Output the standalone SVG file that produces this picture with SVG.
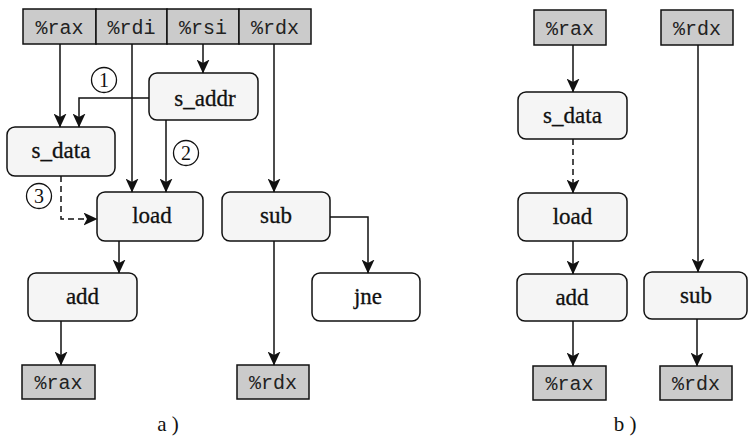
<svg xmlns="http://www.w3.org/2000/svg" width="748" height="437" viewBox="0 0 748 437">
<style>
.reg{fill:#cbcbcb;stroke:#111;stroke-width:1.5}
.node{fill:#f5f5f5;stroke:#111;stroke-width:1.5}
.rt{font-family:"Liberation Mono",monospace;font-size:20px;fill:#222;text-anchor:middle}
.nt{font-family:"Liberation Serif",serif;font-size:23px;fill:#111;stroke:#111;stroke-width:0.3;text-anchor:middle}
.ct{font-family:"Liberation Serif",serif;font-size:20px;fill:#111;text-anchor:middle}
.cap{font-family:"Liberation Serif",serif;font-size:21px;fill:#111;text-anchor:middle}
.circ{fill:#fff;stroke:#111;stroke-width:1.3}
.e{fill:none;stroke:#111;stroke-width:1.5;marker-end:url(#ah)}
.d{stroke-dasharray:6,4}
</style>
<defs>
<marker id="ah" markerUnits="userSpaceOnUse" markerWidth="14" markerHeight="13" viewBox="0 0 14 13" refX="13.5" refY="6.5" orient="auto">
<path d="M0,0 L14,6.5 L0,13 L3.5,6.5 z" fill="#111"/>
</marker>
</defs>
<rect width="748" height="437" fill="#fff"/>

<!-- Part a -->
<g id="a_rax_in"><rect class="reg" x="23" y="9" width="73" height="35"/><text class="rt" x="59.5" y="34">%rax</text></g>
<g id="a_rdi_in"><rect class="reg" x="96" y="9" width="71" height="35"/><text class="rt" x="131.5" y="34">%rdi</text></g>
<g id="a_rsi_in"><rect class="reg" x="167" y="9" width="72" height="35"/><text class="rt" x="203" y="34">%rsi</text></g>
<g id="a_rdx_in"><rect class="reg" x="239" y="9" width="72" height="35"/><text class="rt" x="275" y="34">%rdx</text></g>

<g id="a_s_addr"><rect class="node" x="149" y="73" width="109" height="47" rx="8"/><text class="nt" x="205" y="106">s_addr</text></g>
<g id="a_s_data"><rect class="node" x="7" y="127" width="108" height="49" rx="8"/><text class="nt" x="61" y="158">s_data</text></g>
<g id="a_load"><rect class="node" x="97" y="192" width="106" height="49" rx="8"/><text class="nt" x="152" y="223">load</text></g>
<g id="a_sub"><rect class="node" x="222" y="192" width="108" height="49" rx="8"/><text class="nt" x="276" y="223">sub</text></g>
<g id="a_add"><rect class="node" x="28" y="273" width="109" height="48" rx="8"/><text class="nt" x="82.5" y="304">add</text></g>
<g id="a_jne"><rect class="node" x="312" y="273" width="108" height="48" rx="8" style="fill:#fff"/><text class="nt" x="368" y="304">jne</text></g>
<g id="a_rax_out"><rect class="reg" x="22" y="365" width="73" height="34"/><text class="rt" x="58.5" y="389">%rax</text></g>
<g id="a_rdx_out"><rect class="reg" x="237" y="365" width="72" height="34"/><text class="rt" x="273" y="389">%rdx</text></g>

<g id="a_marks">
<circle class="circ" cx="104" cy="80" r="12.5"/><text class="ct" x="104" y="87">1</text>
<circle class="circ" cx="186" cy="153" r="12.5"/><text class="ct" x="186" y="160">2</text>
<circle class="circ" cx="39" cy="196" r="12.5"/><text class="ct" x="39" y="203">3</text>
</g>

<g id="connectors">
<path class="e" d="M60,44 V127"/>
<path class="e" d="M149,98 H79 V127"/>
<path class="e" d="M132,44 V192"/>
<path class="e" d="M203,44 V73"/>
<path class="e" d="M166,120 V192"/>
<path class="e" d="M274,44 V192"/>
<path class="e d" d="M61,176 V219 H97"/>
<path class="e" d="M119,241 V273"/>
<path class="e" d="M61,321 V365"/>
<path class="e" d="M274,241 V365"/>
<path class="e" d="M330,217 H368 V273"/>
<path class="e" d="M573,45 V92"/>
<path class="e d" d="M573,139 V193"/>
<path class="e" d="M573,241 V274"/>
<path class="e" d="M573,321 V366"/>
<path class="e" d="M698,45 V272"/>
<path class="e" d="M697,319 V366"/>
</g>

<!-- Part b -->
<g id="b_rax_in"><rect class="reg" x="534" y="10" width="72" height="35"/><text class="rt" x="570" y="35">%rax</text></g>
<g id="b_rdx_in"><rect class="reg" x="661" y="10" width="72" height="35"/><text class="rt" x="697" y="35">%rdx</text></g>
<g id="b_s_data"><rect class="node" x="518" y="92" width="109" height="47" rx="8"/><text class="nt" x="572.5" y="123">s_data</text></g>
<g id="b_load"><rect class="node" x="518" y="193" width="109" height="48" rx="8"/><text class="nt" x="572.5" y="224">load</text></g>
<g id="b_add"><rect class="node" x="517" y="274" width="110" height="47" rx="8"/><text class="nt" x="572" y="305">add</text></g>
<g id="b_sub"><rect class="node" x="644" y="272" width="103" height="47" rx="8"/><text class="nt" x="696" y="303">sub</text></g>
<g id="b_rax_out"><rect class="reg" x="533" y="366" width="73" height="34"/><text class="rt" x="569.5" y="390">%rax</text></g>
<g id="b_rdx_out"><rect class="reg" x="660" y="366" width="72" height="34"/><text class="rt" x="696" y="390">%rdx</text></g>

<text class="cap" x="168" y="431">a )</text>
<text class="cap" x="625" y="431">b )</text>
</svg>
